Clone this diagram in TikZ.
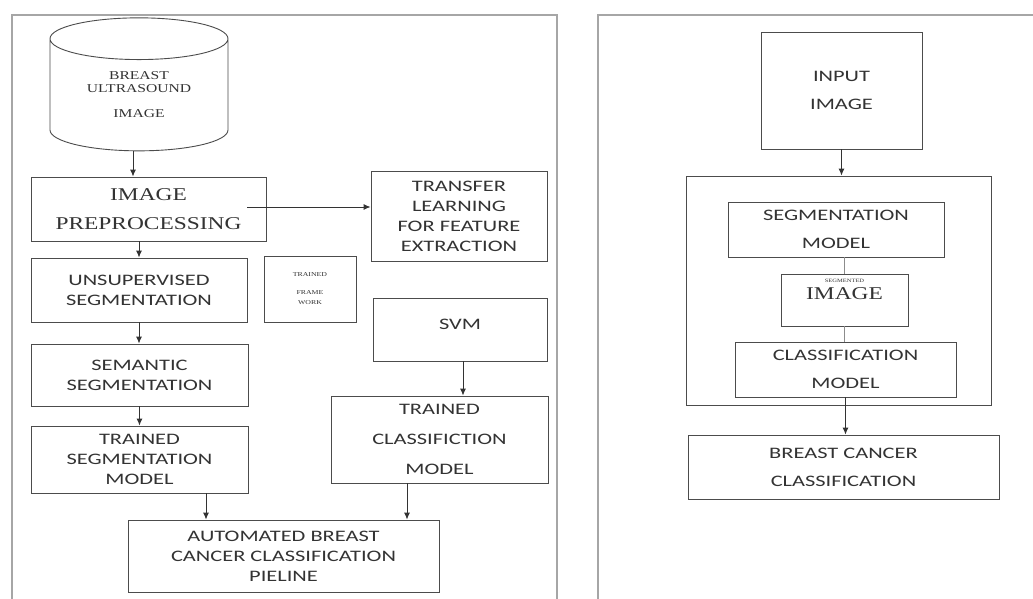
\documentclass[tikz,border=0pt]{standalone}
\usepackage{fontspec}
\setmainfont{Liberation Serif}
\newfontfamily\boxsans[FakeStretch=1.4]{Carlito}
\newfontfamily\boxserif[FakeStretch=1.3]{Liberation Serif}
\usetikzlibrary{shapes.geometric,arrows.meta}

\tikzset{
    box/.style={draw=black!70, line width=0.9pt, align=center, inner sep=0pt,
        text=black!80, font=\boxsans\fontsize{16}{20}\selectfont},
    serifbox/.style={box, font=\boxserif\fontsize{18}{29}\selectfont},
    arr/.style={-{Latex[length=7pt,width=6pt]}, draw=black!80, line width=0.9pt},
    link/.style={draw=black!45, line width=1.2pt},
    panel/.style={draw=black!35, line width=1.5pt}
}

\begin{document}
\begin{tikzpicture}[x=1pt,y=-1pt]
    \useasboundingbox[fill=white] (0,0) rectangle (1033,599);

    % the two frames
    \draw[panel] (12,599) |- (557,15) -- (557,599);
    \draw[panel] (598,599) |- (1033,15);

    % Left: training pipeline
    \node at (139,95) [box, cylinder, shape border rotate=90, aspect=0.4,
        minimum width=178, minimum height=133,
        font=\boxserif\fontsize{12}{13}\selectfont] (db) {BREAST\\ULTRASOUND\\[12pt]IMAGE};
    \node at (148.5,209) [serifbox, minimum width=235, minimum height=64] (pre) {IMAGE\\PREPROCESSING};
    \node at (459,216) [box, minimum width=176, minimum height=90] (tl) {TRANSFER\\LEARNING\\FOR FEATURE\\EXTRACTION};
    \node at (139,290) [box, minimum width=216, minimum height=64] (uns) {UNSUPERVISED\\SEGMENTATION};
    \node at (310,289) [box, minimum width=92, minimum height=66,
        font=\boxserif\fontsize{6}{10}\selectfont] (fw) {TRAINED\\[8pt]FRAME\\WORK};
    \node at (460,329.5) [box, minimum width=174, minimum height=63, text depth=10pt] (svm) {SVM};
    \node at (139.5,375) [box, minimum width=217, minimum height=62] (sem) {SEMANTIC\\SEGMENTATION};
    \node at (139.5,459.5) [box, minimum width=217, minimum height=67] (tsm) {TRAINED\\SEGMENTATION\\MODEL};
    \node at (439.5,439.5) [box, minimum width=217, minimum height=87,
        font=\boxsans\fontsize{16}{30}\selectfont] (tcm) {TRAINED\\CLASSIFICTION\\MODEL};
    \node at (283.5,556) [box, minimum width=311, minimum height=72] (abc) {AUTOMATED BREAST\\CANCER CLASSIFICATION\\PIELINE};

    \draw[arr] ([xshift=-6pt]db.south) -- ([xshift=-6pt]db.south |- pre.north);
    \draw[arr] ([xshift=-19pt,yshift=2pt]pre.east) -- ([yshift=2pt]pre.east -| tl.west);
    \draw[arr] (uns.north |- pre.south) -- (uns.north);
    \draw[arr] (uns.south) -- (uns.south |- sem.north);
    \draw[arr] (sem.south) -- (sem.south |- tsm.north);
    \draw[arr] ([xshift=66.5pt]tsm.south) -- ([xshift=66.5pt]tsm.south |- abc.north);
    \draw[arr] ([xshift=3pt]svm.south) -- ([xshift=3pt]svm.south |- tcm.north);
    \draw[arr] ([xshift=-32.5pt]tcm.south) -- ([xshift=-32.5pt]tcm.south |- abc.north);

    % Right: test pipeline
    \node at (841.5,90.5) [box, minimum width=161, minimum height=117,
        font=\boxsans\fontsize{16}{28}\selectfont] (inp) {INPUT\\IMAGE};
    \node at (838.5,290.5) [box, minimum width=305, minimum height=229] (grp) {};
    \node at (836,229.5) [box, minimum width=216, minimum height=55,
        font=\boxsans\fontsize{16}{28}\selectfont] (sgm) {SEGMENTATION\\MODEL};
    \node at (844.5,300) [box, minimum width=127, minimum height=52, text depth=22pt,
        font=\boxserif\fontsize{18}{17}\selectfont] (sgi) {{\fontsize{5}{5}\selectfont SEGMENTED}\\IMAGE};
    \node at (845.5,369.5) [box, minimum width=221, minimum height=55,
        font=\boxsans\fontsize{16}{28}\selectfont] (clm) {CLASSIFICATION\\MODEL};
    \node at (843.5,467) [box, minimum width=311, minimum height=64,
        font=\boxsans\fontsize{16}{28}\selectfont] (bcc) {BREAST CANCER\\CLASSIFICATION};

    \draw[arr] (inp.south) -- (inp.south |- grp.north);
    \draw[link] (sgi.north |- sgm.south) -- (sgi.north);
    \draw[link] (sgi.south) -- (sgi.south |- clm.north);
    \draw[arr] (clm.south) -- (clm.south |- bcc.north);
\end{tikzpicture}
\end{document}
